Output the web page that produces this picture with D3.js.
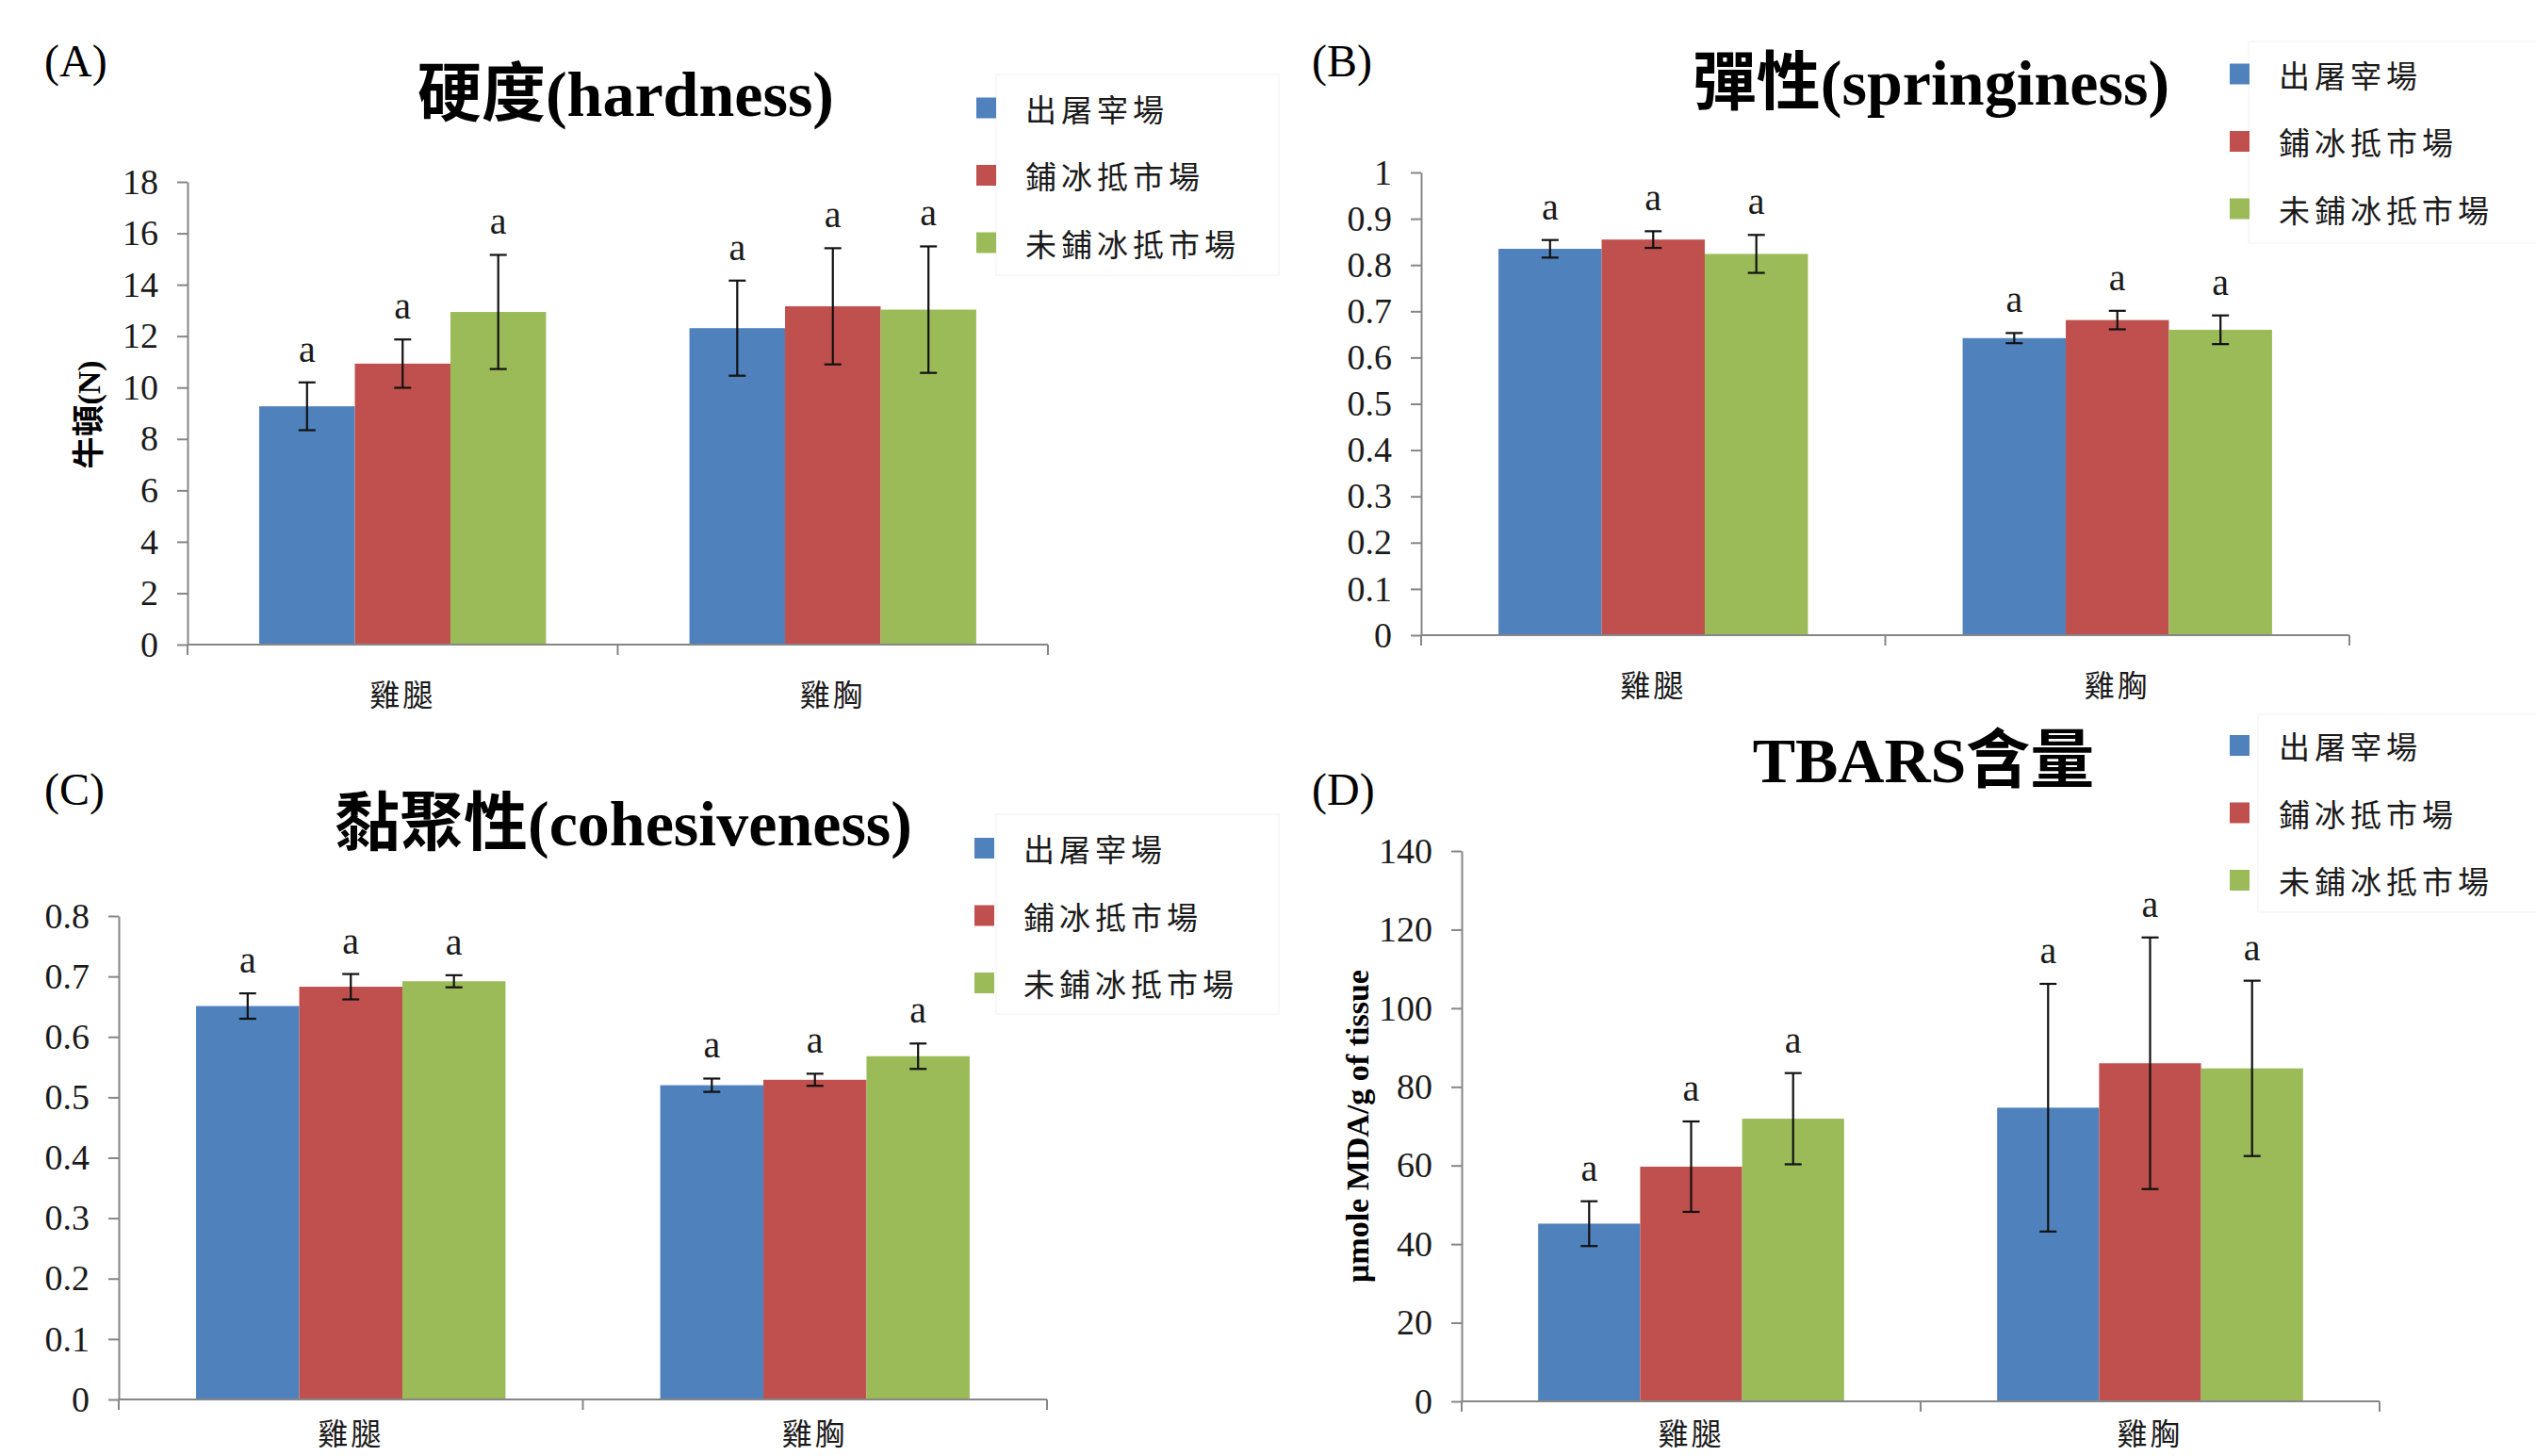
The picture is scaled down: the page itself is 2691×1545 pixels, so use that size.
<!DOCTYPE html>
<html><head><meta charset="utf-8">
<script src="https://cdn.jsdelivr.net/npm/d3@7"></script>
<style>body{margin:0;background:#fff}svg{display:block}</style>
</head><body><svg id="c" width="2691" height="1545"></svg>
<script>
// ---------- data ----------
const categories = ["雞腿", "雞胸"];
const seriesNames = ["出屠宰場", "鋪冰抵市場", "未鋪冰抵市場"];
const seriesColors = ["#4F81BD", "#C0504D", "#9BBB59"];
const sigLetters = [["a","a","a"],["a","a","a"]];

const hardnessMean = [[9.27, 10.93, 12.94], [12.31, 13.16, 13.03]];
const hardnessSD   = [[0.93, 0.94, 2.22], [1.85, 2.26, 2.46]];
const hardnessTicks = [0, 2, 4, 6, 8, 10, 12, 14, 16, 18];

const springMean = [[0.835, 0.855, 0.824], [0.642, 0.681, 0.660]];
const springSD   = [[0.019, 0.018, 0.041], [0.011, 0.020, 0.031]];
const springTicks = [0, 0.1, 0.2, 0.3, 0.4, 0.5, 0.6, 0.7, 0.8, 0.9, 1];

const cohesMean = [[0.651, 0.683, 0.692], [0.520, 0.529, 0.568]];
const cohesSD   = [[0.021, 0.021, 0.010], [0.011, 0.010, 0.021]];
const cohesTicks = [0, 0.1, 0.2, 0.3, 0.4, 0.5, 0.6, 0.7, 0.8];

const tbarsMean = [[45.2, 59.7, 71.9], [74.7, 86.0, 84.7]];
const tbarsSD   = [[5.7, 11.5, 11.6], [31.5, 32.0, 22.3]];
const tbarsTicks = [0, 20, 40, 60, 80, 100, 120, 140];

// ---------- layout ----------
const panels = [
  {tag:"(A)", title:"硬度(hardness)", mean:hardnessMean, sd:hardnessSD, ticks:hardnessTicks, ylabel:"牛頓(N)",
   x0:199, x1:1112, yTop:193, yBot:684, titleX:664, titleY:123, tagX:47, tagY:81,
   ylabX:94, ylabY:440, legX:1036, legY:114.5, box:[1057,79,300,213]},
  {tag:"(B)", title:"彈性(springiness)", mean:springMean, sd:springSD, ticks:springTicks, ylabel:null,
   x0:1508, x1:2493, yTop:183, yBot:674, titleX:2049, titleY:111, tagX:1392, tagY:81,
   legX:2366, legY:78.5, box:[2386,44,320,214]},
  {tag:"(C)", title:"黏聚性(cohesiveness)", mean:cohesMean, sd:cohesSD, ticks:cohesTicks, ylabel:null,
   x0:126, x1:1111, yTop:972, yBot:1485, titleX:662, titleY:897, tagX:47, tagY:854,
   legX:1034, legY:900, box:[1057,864,300,212]},
  {tag:"(D)", title:"TBARS含量", mean:tbarsMean, sd:tbarsSD, ticks:tbarsTicks, ylabel:"μmole MDA/g of tissue",
   x0:1551, x1:2525, yTop:903, yBot:1487, titleX:2041, titleY:830, tagX:1392, tagY:854,
   ylabX:1440, ylabY:1195, legX:2366, legY:791, box:[2396,758,310,210]}
];

const SERIF = "'Liberation Serif','Times New Roman','Noto Sans CJK TC',serif";
const CJK = "'Noto Sans CJK TC','Noto Sans CJK SC',sans-serif";
const AXIS = "#868686";
const svg = d3.select("#c");
const H = 1545;

panels.forEach(p => {
  const g = svg.append("g");
  const maxV = p.ticks[p.ticks.length - 1];
  const y = d3.scaleLinear().domain([0, maxV]).range([p.yBot, p.yTop]);
  const x = d3.scaleBand().domain(categories).range([p.x0, p.x1]).padding(0);
  const xs = d3.scaleBand().domain(seriesNames).range([0, x.bandwidth()]).paddingInner(0).paddingOuter(0.75);

  // legend box (faint)
  g.append("rect").attr("x", p.box[0]).attr("y", p.box[1]).attr("width", p.box[2]).attr("height", p.box[3])
    .attr("fill", "none").attr("stroke", "#f6f6f6").attr("stroke-width", 1.5);

  // bars
  categories.forEach((cat, ci) => {
    seriesNames.forEach((s, si) => {
      const m = p.mean[ci][si];
      const bx = x(cat) + xs(s), bw = xs.bandwidth();
      g.append("rect").attr("x", bx).attr("y", y(m)).attr("width", bw).attr("height", y(0) - y(m))
        .attr("fill", seriesColors[si]);
    });
  });

  // y axis
  const yAxis = d3.axisLeft(y).tickValues(p.ticks).tickFormat(d3.format("~g"))
    .tickSize(11).tickSizeOuter(0).tickPadding(20);
  const ya = g.append("g").attr("transform", `translate(${p.x0},0)`).call(yAxis);
  ya.select(".domain").attr("stroke", AXIS).attr("stroke-width", 2);
  ya.selectAll(".tick line").attr("stroke", AXIS).attr("stroke-width", 2);
  ya.selectAll(".tick text").attr("font-family", SERIF).attr("font-size", 38).attr("fill", "#1a1a1a");

  // x axis
  g.append("line").attr("x1", p.x0).attr("x2", p.x1).attr("y1", y(0)).attr("y2", y(0))
    .attr("stroke", AXIS).attr("stroke-width", 2);
  const bounds = categories.map(c => x(c)).concat([x.range()[1]]);
  g.selectAll(".xt").data(bounds).enter().append("line")
    .attr("x1", d => d).attr("x2", d => d).attr("y1", y(0)).attr("y2", y(0) + 11)
    .attr("stroke", AXIS).attr("stroke-width", 2);
  const labY = Math.min(y(0) + 51, H - 26);
  g.selectAll(".xl").data(categories).enter().append("text")
    .attr("x", d => x(d) + x.bandwidth() / 2).attr("y", labY)
    .attr("text-anchor", "middle").attr("dominant-baseline", "central")
    .attr("font-family", CJK).attr("font-size", 32).attr("letter-spacing", 3).attr("fill", "#1a1a1a")
    .text(d => d);

  // error bars + letters
  categories.forEach((cat, ci) => {
    seriesNames.forEach((s, si) => {
      const m = p.mean[ci][si], e = p.sd[ci][si];
      const cx = x(cat) + xs(s) + xs.bandwidth() / 2;
      const eg = g.append("g").attr("stroke", "#111").attr("stroke-width", 2.2);
      eg.append("line").attr("x1", cx).attr("x2", cx).attr("y1", y(m + e)).attr("y2", y(m - e));
      eg.append("line").attr("x1", cx - 9).attr("x2", cx + 9).attr("y1", y(m + e)).attr("y2", y(m + e));
      eg.append("line").attr("x1", cx - 9).attr("x2", cx + 9).attr("y1", y(m - e)).attr("y2", y(m - e));
      g.append("text").attr("x", cx).attr("y", y(m + e) - 22).attr("text-anchor", "middle")
        .attr("font-family", SERIF).attr("font-size", 40).attr("fill", "#1a1a1a").text(sigLetters[ci][si]);
    });
  });

  // title
  g.append("text").attr("x", p.titleX).attr("y", p.titleY).attr("text-anchor", "middle")
    .attr("font-family", SERIF).attr("font-weight", "bold").attr("font-size", 68).attr("fill", "#000")
    .text(p.title);
  // panel tag
  g.append("text").attr("x", p.tagX).attr("y", p.tagY)
    .attr("font-family", SERIF).attr("font-size", 48).attr("fill", "#000").text(p.tag);
  // y label
  if (p.ylabel) {
    g.append("text").attr("transform", `translate(${p.ylabX},${p.ylabY}) rotate(-90)`)
      .attr("text-anchor", "middle").attr("dominant-baseline", "central")
      .attr("font-family", SERIF).attr("font-weight", "bold").attr("font-size", 34).attr("fill", "#000")
      .text(p.ylabel);
  }
  // legend
  seriesNames.forEach((s, si) => {
    const cy = p.legY + si * 71.5;
    g.append("rect").attr("x", p.legX).attr("y", cy - 11).attr("width", 21).attr("height", 22).attr("fill", seriesColors[si]);
    g.append("text").attr("x", p.legX + 52).attr("y", cy).attr("dominant-baseline", "central")
      .attr("font-family", CJK).attr("font-size", 33).attr("letter-spacing", 5).attr("fill", "#1a1a1a").text(s);
  });
});
</script></body></html>
